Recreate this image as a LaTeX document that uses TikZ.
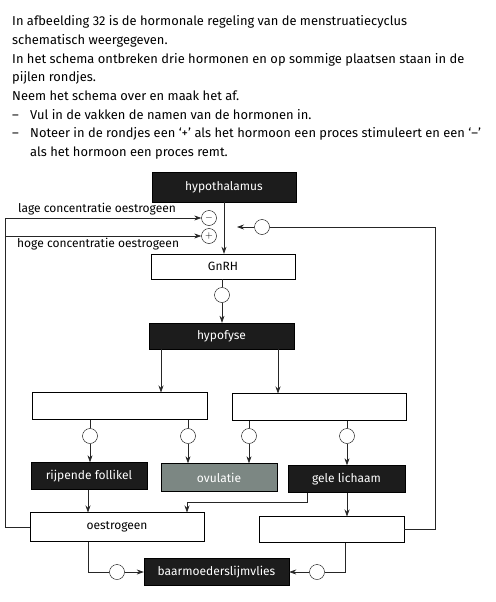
\documentclass[tikz,border=0pt]{standalone}
\usepackage{fontspec}
\setmainfont{Fira Sans}
\usetikzlibrary{arrows.meta}
\definecolor{boxblack}{HTML}{1C1C1C}
\definecolor{boxgrey}{HTML}{7C8783}

\begin{document}
\begin{tikzpicture}[x=1pt, y=-1pt,
    every node/.style={font=\fontsize{12}{13}\selectfont},
    dark/.style={draw=black, fill=boxblack, text=white, inner sep=0pt},
    grey/.style={draw=black, fill=boxgrey, text=white, inner sep=0pt},
    blank/.style={draw=black, fill=white, inner sep=0pt},
    ring/.style={draw=black, fill=white, circle, minimum size=15pt, inner sep=0pt},
    sign/.style={draw=black, circle, minimum size=15pt, inner sep=0pt, font=\fontsize{10}{10}\selectfont},
    line/.style={draw=black!85, line width=0.7pt},
    arr/.style={line, -{Stealth[length=7pt, width=5pt]}}]
    \useasboundingbox (0, 0) rectangle (495, 602);

    \node[anchor=north west, align=left, inner sep=0pt,
          font=\fontsize{12.9}{18.7}\selectfont] (intro) at (12, 15.5)
        {In afbeelding 32 is de hormonale regeling van de menstruatiecyclus\\
         schematisch weergegeven.\\
         In het schema ontbreken drie hormonen en op sommige plaatsen staan in de\\
         pijlen rondjes.\\
         Neem het schema over en maak het af.\\
         \makebox[18pt][l]{–}Vul in de vakken de namen van de hormonen in.\\
         \makebox[18pt][l]{–}Noteer in de rondjes een ‘+’ als het hormoon een proces stimuleert en een ‘–’\\
         \hspace*{18pt}als het hormoon een proces remt.};

    \node[dark, minimum width=144pt, minimum height=30pt] (hyp) at (224, 187) {hypothalamus};
    \node[blank, minimum width=144pt, minimum height=25pt] (gnrh) at (223, 266.5) {GnRH};
    \node[dark, minimum width=145pt, minimum height=26pt] (hypo) at (221.5, 336) {hypofyse};
    \node[blank, minimum width=175pt, minimum height=27pt] (lh) at (119.5, 406) {};
    \node[blank, minimum width=174pt, minimum height=27pt] (rh) at (319, 407) {};
    \node[dark, minimum width=116pt, minimum height=27pt] (follikel) at (89, 476) {rijpende follikel};
    \node[grey, minimum width=116pt, minimum height=28pt] (ovulatie) at (219, 477.5) {ovulatie};
    \node[dark, minimum width=117pt, minimum height=27pt] (geel) at (346.5, 479) {gele lichaam};
    \node[blank, minimum width=174pt, minimum height=29pt] (oes) at (117, 527) {oestrogeen};
    \node[blank, minimum width=145pt, minimum height=26pt] (rb) at (331.5, 529.5) {};
    \node[dark, minimum width=145pt, minimum height=27pt] (baar) at (216.5, 572) {baarmoederslijmvlies};

    \node[sign] (min) at (209, 218) {$-$};
    \node[sign] (plus) at (209, 236) {$+$};
    \node[ring] (fb) at (262, 227) {};
    \node[ring] (c1) at (222, 295) {};
    \node[ring] (c2) at (90, 436) {};
    \node[ring] (c3) at (188, 436) {};
    \node[ring] (c4) at (249, 436) {};
    \node[ring] (c5) at (347, 436) {};
    \node[ring] (c6) at (117, 572) {};
    \node[ring] (c7) at (317, 572) {};

    \coordinate (lt) at (5, 218);
    \coordinate (lb) at (5, 236);
    \coordinate (rt) at (435, 227);
    \coordinate (fbend) at (237, 227);

    \node[anchor=south west, inner sep=0pt] (lage) at (18, 215) {lage concentratie oestrogeen};
    \node[anchor=north west, inner sep=0pt] (hoge) at (17, 238) {hoge concentratie oestrogeen};

    \draw[arr] (hyp.south) -- (hyp.south |- gnrh.north);
    \draw[line] (oes.west) -| (lt);
    \draw[arr] (lt) -- (min.west);
    \draw[arr] (lb) -- (plus.west);
    \draw[line] (rb.east) -| (rt) -- (fb.east);
    \draw[arr] (fb.west) -- (fbend);

    \draw[line] (gnrh.south -| c1) -- (c1.north);
    \draw[arr] (c1.south) -- (c1 |- hypo.north);
    \draw[arr] (hypo.south -| 161, 0) -- (161, 392.5);
    \draw[arr] (hypo.south -| 278, 0) -- (278, 393.5);

    \draw[line] (lh.south -| c2) -- (c2.north);
    \draw[arr] (c2.south) -- (c2 |- follikel.north);
    \draw[line] (lh.south -| c3) -- (c3.north);
    \draw[arr] (c3.south) -- (c3 |- ovulatie.north);
    \draw[line] (rh.south -| c4) -- (c4.north);
    \draw[arr] (c4.south) -- (c4 |- ovulatie.north);
    \draw[line] (rh.south -| c5) -- (c5.north);
    \draw[arr] (c5.south) -- (c5 |- geel.north);

    \draw[arr] (follikel.south -| 88, 0) -- (88, 512.5);
    \draw[arr] (geel.south -| 307, 0) -- (307, 502) -| (187, 512.5);
    \draw[arr] (geel.south -| 347, 0) -- (347, 516.5);

    \draw[line] (oes.south -| 88, 0) |- (c6.west);
    \draw[arr] (c6.east) -- (baar.west);
    \draw[line] (rb.south -| 345, 0) |- (c7.east);
    \draw[arr] (c7.west) -- (baar.east);
\end{tikzpicture}
\end{document}
